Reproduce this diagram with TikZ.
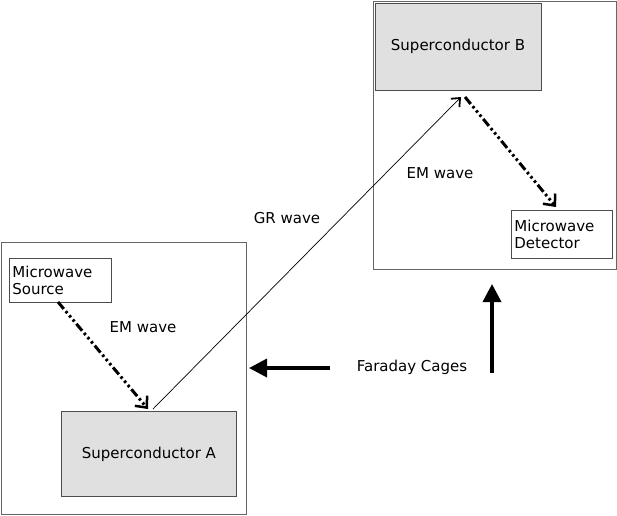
\documentclass[tikz,border=0pt]{standalone}
\usepackage{fontspec}
\setmainfont{DejaVu Sans}
\usetikzlibrary{arrows.meta}
\begin{document}
\begin{tikzpicture}[x=1pt,y=-1pt,
  cage/.style={draw=black!60,line width=0.8pt},
  box/.style={draw=black!70,line width=0.8pt,inner sep=2pt,font=\fontsize{15}{17}\selectfont},
  sc/.style={draw=black!70,fill=black!12,line width=0.8pt,font=\fontsize{15}{17}\selectfont},
  em/.style={line width=3pt,dash pattern=on 9pt off 3pt on 2.5pt off 3pt on 2.5pt off 3pt on 2.5pt off 3pt,-{Straight Barb[length=9pt,width=16pt,line width=2.5pt]}},
  big/.style={line width=3.5pt,-{Triangle[length=18pt,width=18pt]}},
  lab/.style={font=\fontsize{15}{17}\selectfont}]
\useasboundingbox (0,0) rectangle (617,515);
\draw[cage] (1,242) rectangle (246,514);
\draw[cage] (373,1) rectangle (616,269);
\node[box,draw,minimum width=102pt,minimum height=44pt,align=left,anchor=north west,text width=96pt] (src) at (9,258) {Microwave\\Source};
\node[sc,draw,minimum width=175pt,minimum height=85pt,anchor=north west] (A) at (61,411) {Superconductor A};
\node[sc,draw,minimum width=166pt,minimum height=87pt,anchor=north west,text depth=40pt,text height=0pt] (B) at (375,3) {};
\node[lab] at (458,46) {Superconductor B};
\node[box,draw,minimum width=101pt,minimum height=48pt,align=left,anchor=north west,text width=95pt] (det) at (511,210) {Microwave\\Detector};
\coordinate (s1) at (58,302);
\coordinate (a1) at (148,409);
\coordinate (a2) at (153,409);
\coordinate (b1) at (461,97);
\coordinate (b2) at (465,97);
\coordinate (d1) at (556,207);
\draw[em] (s1) -- (a1);
\draw[em] (b2) -- (d1);
\draw[line width=0.7pt,-{Straight Barb[length=7pt,width=12pt,line width=1.8pt]}] (a2) -- (b1);
\node[lab] at (143,327) {EM wave};
\node[lab] at (287,218) {GR wave};
\node[lab] at (440,173) {EM wave};
\node[lab] (fc) at (412,367) {Faraday Cages};
\coordinate (h1) at (330,368);
\coordinate (h2) at (249,368);
\coordinate (v1) at (492,373);
\coordinate (v2) at (492,284);
\draw[big] (h1) -- (h2);
\draw[big] (v1) -- (v2);
\end{tikzpicture}
\end{document}
